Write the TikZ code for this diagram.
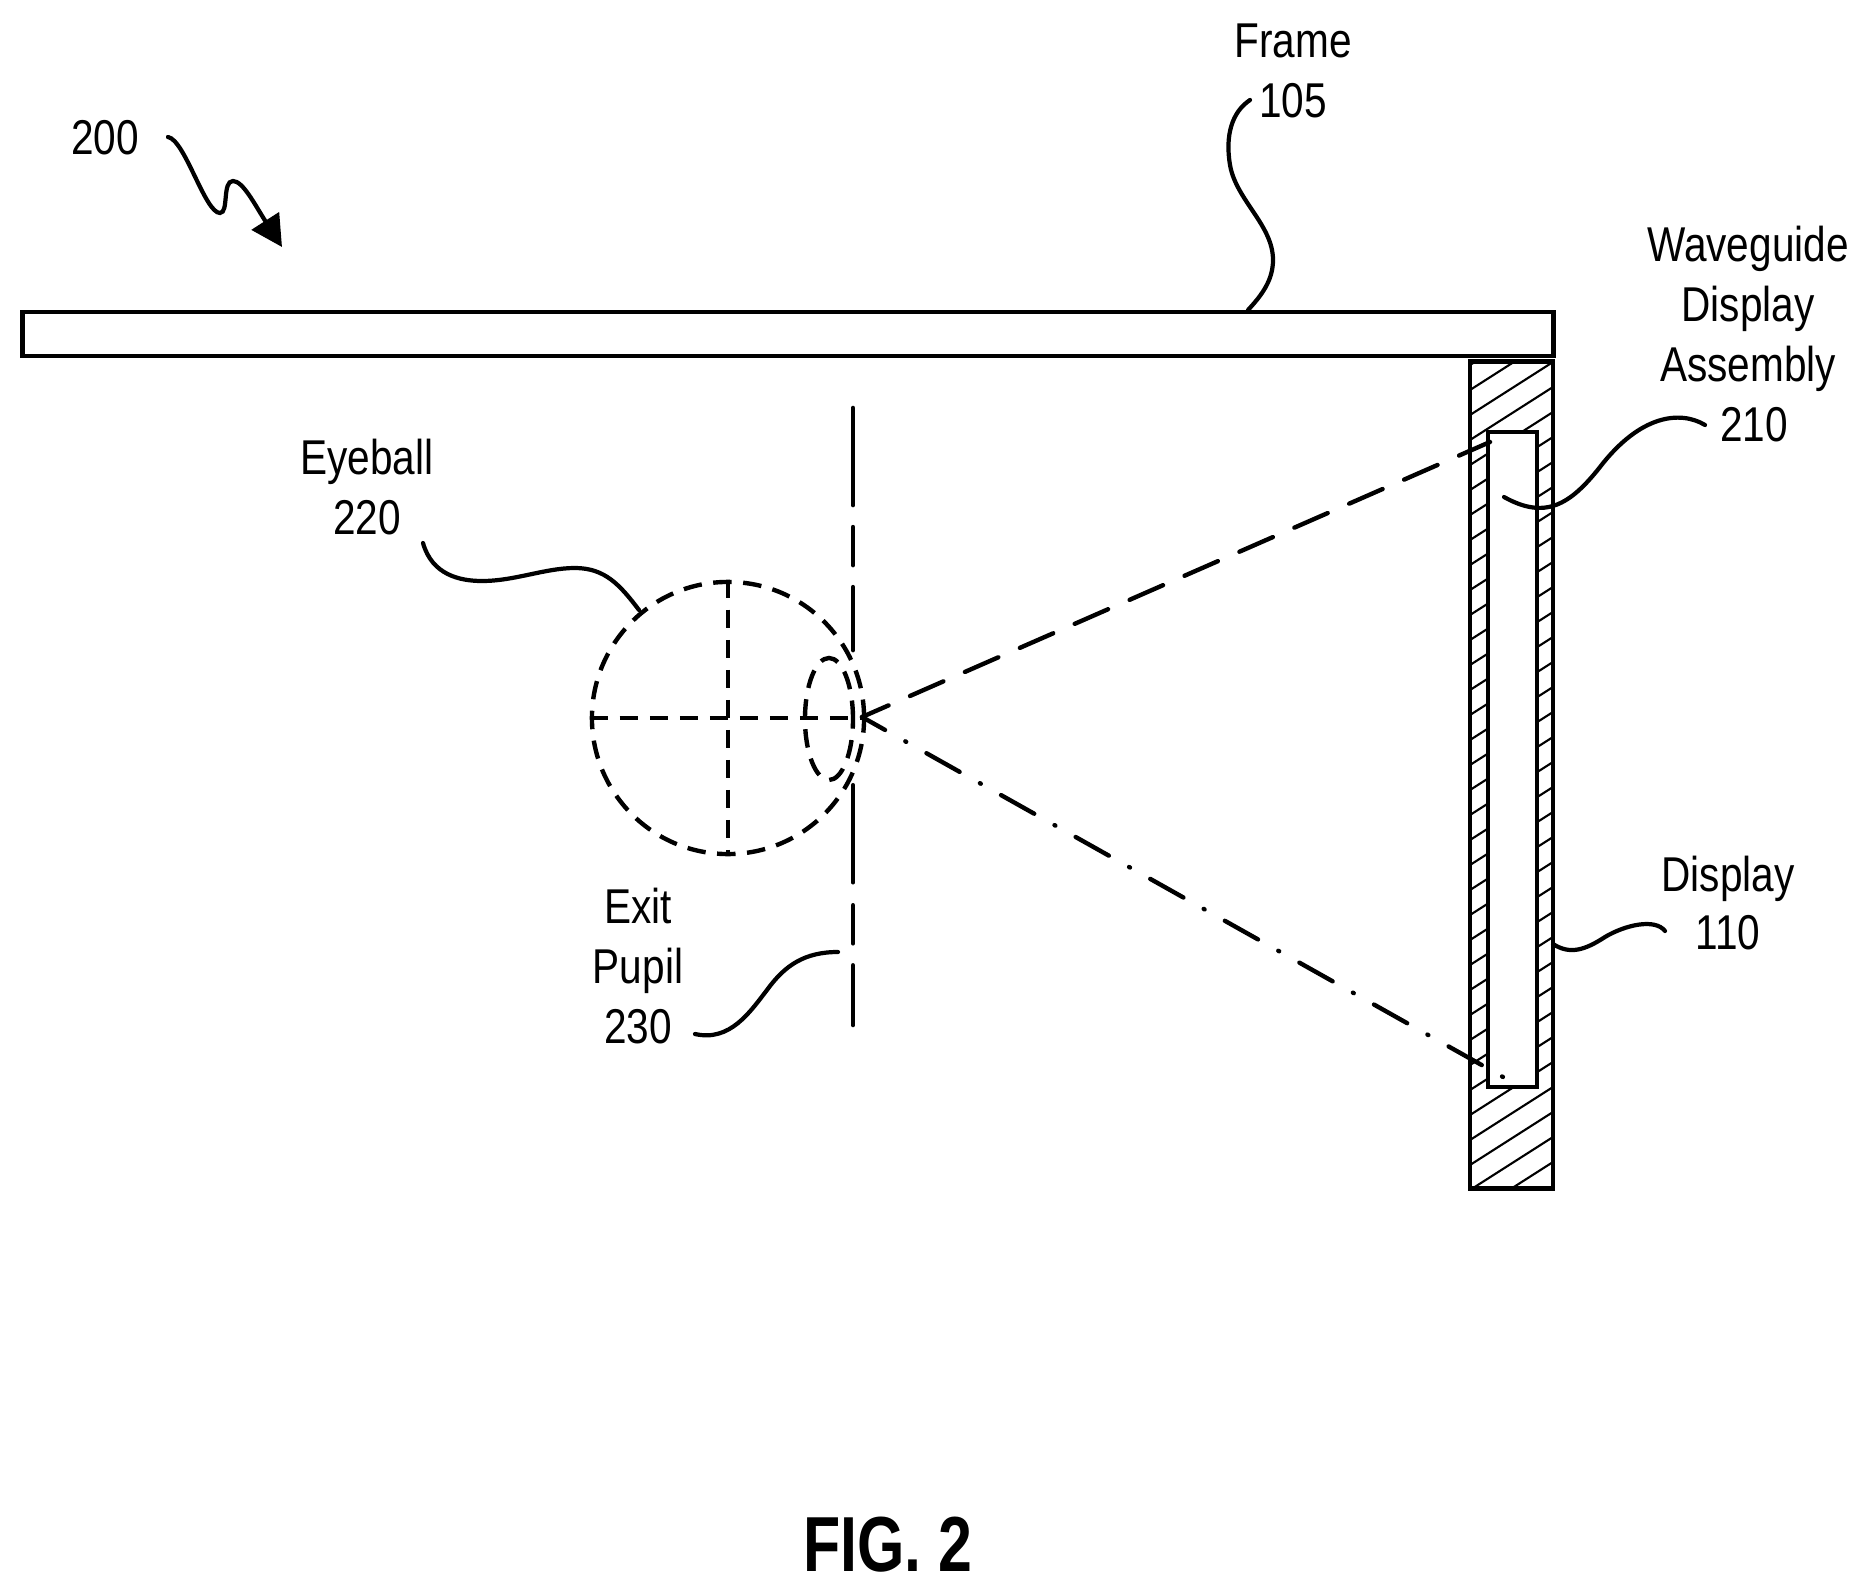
\documentclass[tikz,border=0pt]{standalone}
\usepackage{fontspec}
\setmainfont[FakeStretch=0.83]{Liberation Sans}
\newfontfamily\figfont[FakeStretch=0.78]{Liberation Sans}
\usetikzlibrary{arrows.meta,positioning,shapes.geometric}
\tikzset{
  every node/.style={font=\fontsize{13.9}{17.1}\selectfont},
  label/.style={align=center, inner sep=0pt},
  box/.style={draw, rectangle, line width=1.3pt, inner sep=0pt},
  leader/.style={line width=1.2pt, line cap=round},
  eyedash/.style={line width=1.25pt, dash pattern=on 0.185cm off 0.115cm},
  hatchline/.style={line width=0.6pt}
}

\begin{document}
\begin{tikzpicture}[x=0.01cm, y=-0.01cm]
\useasboundingbox (0,0) rectangle (1869,1591);

% Frame and display
\node[box, fill=white, minimum width=15.3cm, minimum height=0.44cm] (frame) at (788,334) {};
\node[box, minimum width=0.83cm, minimum height=8.26cm] (display) at (1511.5,775) {};
\begin{scope}
\clip (display.south west) rectangle (display.north east);
\foreach \y in {365,390,...,1265}
  \draw[hatchline] (1470,\y) -- (1553,\y-53);
\end{scope}
\node[box, fill=white, minimum width=0.49cm, minimum height=6.55cm] (waveguide) at (1512.5,759.5) {};

% Eye
\node[draw, circle, inner sep=0pt, minimum size=2.72cm, eyedash] (eyeball) at (728,718) {};
\node[draw, ellipse, inner sep=0pt, minimum width=0.48cm, minimum height=1.22cm, eyedash] (lens) at (829,719) {};
\draw[eyedash] (eyeball.west) -- (eyeball.east);
\draw[eyedash] (eyeball.north) -- (eyeball.south);

% Exit pupil line
\coordinate (pupiltop) at (853,408);
\coordinate (pupilbot) at (853,1025);
\draw[line width=1.3pt, line cap=round, dash pattern=on 0.97cm off 0.22cm on 0.38cm off 0.22cm on 0.63cm off 1.35cm on 0.97cm off 0.23cm on 0.38cm off 0.22cm on 0.6cm] (pupiltop) -- (pupilbot);

% Rays
\coordinate (apex) at (862,717);
\coordinate (raytop) at (1490,442);
\coordinate (raybot) at (1503,1077);
\draw[line width=1.25pt, line cap=round, dash pattern=on 0.364cm off 0.235cm, dash phase=0.075cm] (apex) -- (raytop);
\draw[line width=1.25pt, line cap=round, dash pattern=on 0.38cm off 0.2325cm on 0.01cm off 0.2325cm, dash phase=0.116cm] (apex) -- (raybot);

% Labels
\node[label] (lbl200) at (105,138) {200};
\node[label] (lblframe) at (1293,71) {Frame\\105};
\node[label] (lblwave) at (1748,334) {Waveguide\\Display\\Assembly\\\hspace{0.12cm}210};
\node[label] (lbleye) at (367,487) {Eyeball\\220};
\node[label] (lblexit) at (638,966) {Exit\\Pupil\\230};
\node[label] (lbldisplay) at (1728,903) {Display\\[-0.5pt]110};
\node[inner sep=0pt, font=\figfont\fontsize{22.2}{26}\selectfont\bfseries] (figlabel) at (888,1545) {FIG. 2};

% Leaders
\coordinate (a0) at (168,137);
\coordinate (a1) at (282,247);
\draw[leader, -{Triangle[length=0.31cm, width=0.32cm]}] (a0) .. controls (185,140) and (205,213) .. (220,213) .. controls (229,213) and (222,181) .. (233,181) .. controls (243,181) and (255,205) .. (a1);
\coordinate (f0) at (1250,100);
\coordinate (f1) at (1248,310);
\draw[leader] (f0) .. controls (1232,112) and (1225,135) .. (1230,165) .. controls (1236,200) and (1273,225) .. (1273,260) .. controls (1273,280) and (1262,295) .. (f1);
\coordinate (w0) at (1705,425);
\coordinate (w1) at (1504,497);
\draw[leader] (w0) .. controls (1680,410) and (1640,415) .. (1600,467) .. controls (1570,505) and (1545,520) .. (w1);
\coordinate (e0) at (423,543);
\coordinate (e1) at (639,610);
\draw[leader] (e0) .. controls (432,575) and (460,581) .. (482,581) .. controls (515,581) and (545,568) .. (575,568) .. controls (605,568) and (620,585) .. (e1);
\coordinate (p0) at (695,1034);
\coordinate (p1) at (838,952);
\draw[leader] (p0) .. controls (730,1042) and (750,1012) .. (767,990) .. controls (785,965) and (805,952) .. (p1);
\coordinate (d0) at (1665,931);
\coordinate (d1) at (1553,944);
\draw[leader] (d0) .. controls (1655,918) and (1625,925) .. (1605,937) .. controls (1585,950) and (1570,955) .. (d1);

\end{tikzpicture}
\end{document}
